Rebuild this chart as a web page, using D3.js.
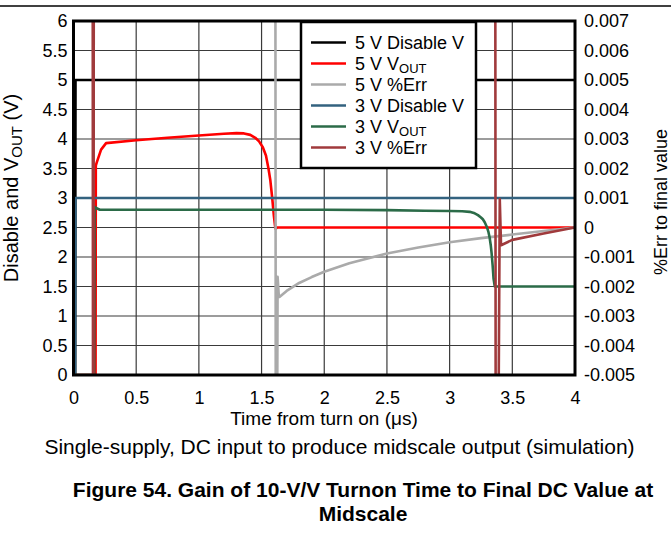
<!DOCTYPE html>
<html><head><meta charset="utf-8">
<script src="https://cdn.jsdelivr.net/npm/d3@7/dist/d3.min.js"></script>
<style>
body{margin:0;background:#fff;}
svg text{font-family:"Liberation Sans",Arial,Helvetica,sans-serif;fill:#000;}
</style></head>
<body><svg id="c" width="671" height="535"></svg>
<script>
// ---- data ----
const xTicks = [0,0.5,1,1.5,2,2.5,3,3.5,4];
const xTickLabels = ["0","0.5","1","1.5","2","2.5","3","3.5","4"];
const yLeftTicks = [0,0.5,1,1.5,2,2.5,3,3.5,4,4.5,5,5.5,6];
const yLeftTickLabels = ["0","0.5","1","1.5","2","2.5","3","3.5","4","4.5","5","5.5","6"];
const yRightTicks = [-0.005,-0.004,-0.003,-0.002,-0.001,0,0.001,0.002,0.003,0.004,0.005,0.006,0.007];
const yRightTickLabels = ["-0.005","-0.004","-0.003","-0.002","-0.001","0","0.001","0.002","0.003","0.004","0.005","0.006","0.007"];

const seriesNames = ["5 V Disable V","5 V V_OUT","5 V %Err","3 V Disable V","3 V V_OUT","3 V %Err"];
const seriesColors = ["#000000","#ff0000","#aaaaaa","#33627f","#2b6b48","#a03a3c"];

// [time (us), value]
const disable5 = [[0,0],[0.013,0],[0.016,5],[4,5]];
const vout5 = [[0,0],[0.176,0],[0.178,3.55],[0.185,3.6],[0.22,3.82],[0.26,3.93],[0.5,3.98],[0.75,4.02],[1.0,4.06],[1.2,4.09],[1.3,4.1],[1.36,4.095],[1.41,4.07],[1.45,4.02],[1.48,3.96],[1.51,3.86],[1.535,3.72],[1.555,3.5],[1.57,3.3],[1.585,3.0],[1.598,2.7],[1.608,2.52],[1.612,2.48],[1.625,2.5],[4,2.5]];
const err5 = [[0,0.01],[1.61,0.01],[1.614,-0.01],[1.622,-0.01],[1.628,-0.00167],[1.638,-0.00235],[1.645,-0.00235],[1.7,-0.00215],[1.8,-0.00188],[1.9,-0.00168],[2.0,-0.0015],[2.2,-0.00121],[2.5,-0.00088],[2.75,-0.00068],[3.0,-0.0005],[3.25,-0.00036],[3.5,-0.00024],[3.75,-0.00012],[4,0]];
const disable3 = [[0,0],[0.013,0],[0.016,3],[4,3]];
const vout3 = [[0,0],[0.165,0],[0.168,2.85],[0.18,2.83],[0.21,2.8],[1.0,2.8],[2.0,2.8],[2.5,2.795],[2.8,2.785],[3.0,2.78],[3.1,2.775],[3.16,2.765],[3.2,2.74],[3.226,2.71],[3.25,2.67],[3.265,2.64],[3.28,2.59],[3.297,2.51],[3.31,2.42],[3.319,2.33],[3.328,2.2],[3.335,2.06],[3.343,1.86],[3.35,1.64],[3.36,1.5],[4,1.5]];
const err3 = [[0,0.01],[0.153,0.01],[0.156,-0.01],[0.159,-0.01],[0.162,0.01],[3.364,0.01],[3.368,-0.01],[3.385,-0.01],[3.4,0.00096],[3.41,-0.0006],[3.5,-0.00042],[3.75,-0.0002],[4,0]];

// ---- layout ----
const L = 73.5, R = 575, T = 21, B = 375;
const svg = d3.select("#c");
const x = d3.scaleLinear().domain([0,4]).range([L,R]);
const yL = d3.scaleLinear().domain([0,6]).range([B,T]);
const yR = d3.scaleLinear().domain([-0.005,0.007]).range([B,T]);

// top rule
svg.append("line").attr("x1",0).attr("x2",671).attr("y1",6).attr("y2",6).attr("stroke","#000").attr("stroke-width",1.5);

svg.append("defs").append("clipPath").attr("id","clip").append("rect")
  .attr("x",L).attr("y",T).attr("width",R-L).attr("height",B-T);

// grid
const grid = svg.append("g").attr("stroke","#3a3a3a").attr("stroke-width",1.2);
grid.selectAll("line.v").data(xTicks).join("line").attr("class","v")
  .attr("x1",d=>x(d)).attr("x2",d=>x(d)).attr("y1",T).attr("y2",B);
grid.selectAll("line.h").data(yLeftTicks).join("line").attr("class","h")
  .attr("y1",d=>yL(d)).attr("y2",d=>yL(d)).attr("x1",L).attr("x2",R);

// series
const series = [
  {data:disable5, y:yL}, {data:vout5, y:yL}, {data:err5, y:yR},
  {data:disable3, y:yL}, {data:vout3, y:yL}, {data:err3, y:yR}
];
const plot = svg.append("g").attr("clip-path","url(#clip)");
series.forEach((s,i)=>{
  const line = d3.line().x(d=>x(d[0])).y(d=>s.y(d[1]));
  plot.append("path").datum(s.data).attr("d",line)
    .attr("fill","none").attr("stroke",seriesColors[i]).attr("stroke-width",2.6)
    .attr("stroke-linejoin","round");
});

// frame
svg.append("rect").attr("x",L).attr("y",T).attr("width",R-L).attr("height",B-T)
  .attr("fill","none").attr("stroke","#000").attr("stroke-width",3);

// axes
const fs = 18;
const ax = svg.append("g").attr("transform",`translate(0,${B})`)
  .call(d3.axisBottom(x).tickValues(xTicks).tickSize(0).tickPadding(10).tickFormat((d,i)=>xTickLabels[i]));
const al = svg.append("g").attr("transform",`translate(${L},0)`)
  .call(d3.axisLeft(yL).tickValues(yLeftTicks).tickSize(0).tickPadding(6).tickFormat((d,i)=>yLeftTickLabels[i]));
const ar = svg.append("g").attr("transform",`translate(${R},0)`)
  .call(d3.axisRight(yR).tickValues(yRightTicks).tickSize(0).tickPadding(9).tickFormat((d,i)=>yRightTickLabels[i]));
[ax,al,ar].forEach(g=>{
  g.select(".domain").remove();
  g.selectAll("text").attr("font-size",fs).attr("font-family",null).style("fill","#000");
});
ax.selectAll("text").attr("dy",null).attr("y",29);

// axis titles
svg.append("text").attr("x",324).attr("y",425).attr("text-anchor","middle").attr("font-size",19)
  .text("Time from turn on (μs)");
const lt = svg.append("text").attr("transform","translate(18,188) rotate(-90)").attr("text-anchor","middle").attr("font-size",20);
lt.append("tspan").text("Disable and V");
lt.append("tspan").attr("font-size",15).attr("dy",4).text("OUT");
lt.append("tspan").attr("dy",-4).text(" (V)");
svg.append("text").attr("transform","translate(667,202) rotate(-90)").attr("text-anchor","middle").attr("font-size",18)
  .text("%Err to final value");

// legend
const lg = svg.append("g");
lg.append("rect").attr("x",301).attr("y",22).attr("width",175).attr("height",146)
  .attr("fill","#fff").attr("stroke","#000").attr("stroke-width",2.5);
seriesNames.forEach((name,i)=>{
  const cy = 42.5 + i*21;
  lg.append("line").attr("x1",311).attr("x2",346).attr("y1",cy).attr("y2",cy)
    .attr("stroke",seriesColors[i]).attr("stroke-width",2.6);
  const t = lg.append("text").attr("x",355).attr("y",cy+6.5).attr("font-size",18);
  if (name.includes("_")) {
    const [a,b] = name.split("_");
    t.append("tspan").text(a);
    t.append("tspan").attr("font-size",13).attr("dy",3).text(b);
  } else t.text(name);
});

// captions
svg.append("text").attr("x",339.5).attr("y",454).attr("text-anchor","middle").attr("font-size",21)
  .text("Single-supply, DC input to produce midscale output (simulation)");
svg.append("text").attr("x",363).attr("y",497).attr("text-anchor","middle").attr("font-size",21).attr("font-weight","bold")
  .text("Figure 54. Gain of 10-V/V Turnon Time to Final DC Value at");
svg.append("text").attr("x",363).attr("y",521).attr("text-anchor","middle").attr("font-size",21).attr("font-weight","bold")
  .text("Midscale");
</script></body></html>
